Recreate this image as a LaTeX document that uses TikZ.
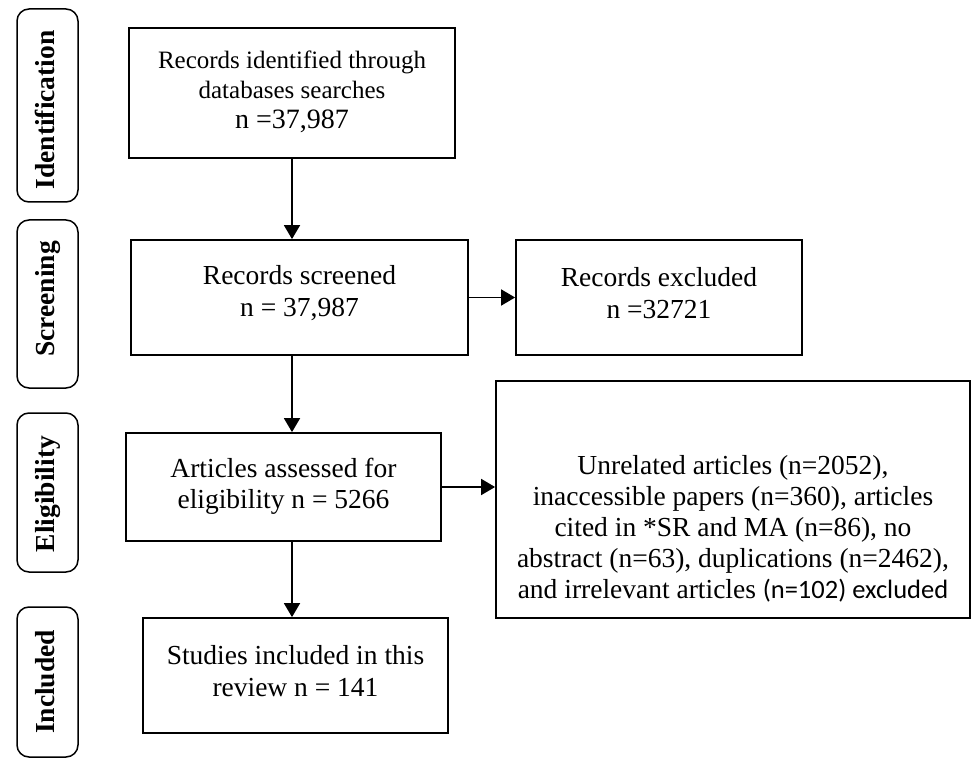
\documentclass[tikz,border=0pt]{standalone}
\usepackage{fontspec}
\setmainfont{Liberation Serif}
\newfontfamily\calfont{Carlito}
\usetikzlibrary{arrows.meta}
\begin{document}
\begin{tikzpicture}[x=1pt,y=-1pt,
  box/.style={draw, line width=1.8pt, inner sep=0pt, rectangle},
  side/.style={draw, line width=1.5pt, rounded corners=12pt, inner sep=0pt, rectangle},
  sidetext/.style={font=\bfseries\fontsize{27.5}{30}\selectfont, rotate=90, anchor=base, inner sep=0pt},
  txt/.style={align=center, inner sep=0pt, font=\fontsize{27.5}{32}\selectfont},
  arr/.style={-{Triangle[length=14pt,width=16pt]}, line width=1.8pt}]
\useasboundingbox (0,0) rectangle (972,759);

% side labels
\node[side, minimum width=61pt, minimum height=193pt] (s1) at (47.5,105.5) {};
\node[sidetext] (s1t) at (54,110) {Identification};
\node[side, minimum width=61pt, minimum height=168pt] (s2) at (47.5,304) {};
\node[sidetext] (s2t) at (54,299) {Screening};
\node[side, minimum width=61pt, minimum height=159pt] (s3) at (47.5,492.5) {};
\node[sidetext] (s3t) at (54,494) {Eligibility};
\node[side, minimum width=61pt, minimum height=150pt] (s4) at (47.5,682) {};
\node[sidetext] (s4t) at (54,682) {Included};

% main boxes
\node[box, minimum width=326pt, minimum height=130pt] (id) at (292,93) {};
\node[txt, font=\fontsize{25}{30}\selectfont] (idt) at (292,92) {Records identified through\\databases searches\\{\fontsize{28}{30}\selectfont n =37,987}};

\node[box, minimum width=337pt, minimum height=115pt] (scr) at (299.5,297.5) {};
\node[txt] (scrt) at (299.5,293) {Records screened\\n = 37,987};

\node[box, minimum width=286pt, minimum height=115pt] (exc) at (659,297.5) {};
\node[txt] (exct) at (659,293) {Records excluded\\n =32721};

\node[box, minimum width=315pt, minimum height=108pt] (art) at (283.5,487) {};
\node[txt, font=\fontsize{27.5}{31}\selectfont] (artt) at (283.5,486) {Articles assessed for\\eligibility n = 5266};

\node[box, minimum width=474pt, minimum height=237pt] (big) at (733,499.5) {};
\node[txt, font=\fontsize{27.5}{31}\selectfont] (bigt) at (733,529) {Unrelated articles (n=2052),\\inaccessible papers (n=360), articles\\cited in *SR and MA (n=86), no\\abstract (n=63), duplications (n=2462),\\and irrelevant articles {\calfont\fontsize{26.5}{31}\selectfont (n=102) excluded}};

\node[box, minimum width=305pt, minimum height=115pt] (stu) at (295.5,675.5) {};
\node[txt] (stut) at (295.5,671) {Studies included in this\\review n = 141};

% connectors
\draw[arr] (id.south) -- (id.south |- scr.north);
\draw[arr] (scr.south -| id.south) -- (art.north -| id.south);
\draw[arr] (art.south -| id.south) -- (stu.north -| id.south);
\draw[arr] (scr.east) -- (exc.west);
\draw[arr] (art.east) -- (art.east -| big.west);
\end{tikzpicture}
\end{document}
